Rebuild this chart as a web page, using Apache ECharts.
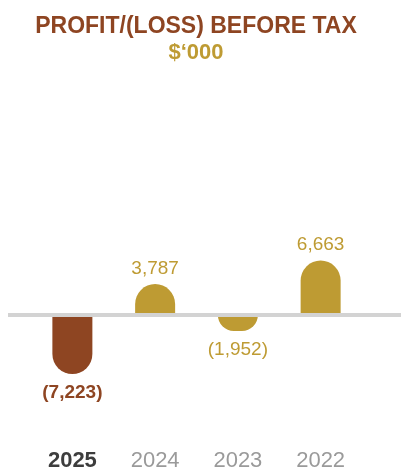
<!DOCTYPE html>
<html>
<head>
<meta charset="utf-8">
<script src="https://cdn.jsdelivr.net/npm/echarts@6/dist/echarts.min.js"></script>
<style>
  html, body { margin: 0; padding: 0; background: #fff; }
  #chart { width: 401px; height: 472px; }
</style>
</head>
<body>
<div id="chart"></div>
<script>
// values in $'000
const years = ['2025', '2024', '2023', '2022']
const values = [-7223, 3787, -1952, 6663]

const BROWN = '#8E4522'
const GOLD = '#BE9B33'

const fmt = (v) => {
  const s = Math.abs(v).toLocaleString('en-US')
  return v < 0 ? '(' + s + ')' : s
}

const chart = echarts.init(document.getElementById('chart'))

const barData = values.map((v, i) => {
  const current = i === 0
  return {
    value: v,
    itemStyle: {
      color: current ? BROWN : GOLD,
      borderRadius: v < 0 ? [0, 0, 20, 20] : [20, 20, 0, 0],
    },
    label: {
      position: v < 0 ? 'bottom' : 'top',
      distance: v < 0 ? 9 : 6,
      color: current ? BROWN : GOLD,
      fontWeight: current ? 'bold' : 'normal',
    },
  }
})

chart.setOption({
  animation: false,
  title: {
    text: 'PROFIT/(LOSS) BEFORE TAX',
    subtext: '$\u2018000',
    left: 191,
    textAlign: 'center',
    top: 10,
    itemGap: 4,
    textStyle: {
      color: BROWN,
      fontFamily: 'Liberation Sans',
      fontWeight: 'bold',
      fontSize: 23,
    },
    subtextStyle: {
      color: GOLD,
      fontFamily: 'Liberation Sans',
      fontWeight: 'bold',
      fontSize: 22,
    },
  },
  grid: {
    left: 31,
    right: 39,
    top: 217,
    height: 196,
  },
  xAxis: {
    type: 'category',
    data: years,
    axisLine: { show: false, onZero: false },
    axisTick: { show: false },
    axisLabel: {
      margin: 37,
      fontFamily: 'Liberation Sans',
      formatter: (val, idx) => (idx === 0 ? '{cur|' + val + '}' : '{old|' + val + '}'),
      rich: {
        cur: { fontSize: 22, fontWeight: 'bold', color: '#3D3D3D', fontFamily: 'Liberation Sans' },
        old: { fontSize: 22, color: '#9A9A9A', fontFamily: 'Liberation Sans' },
      },
    },
  },
  yAxis: {
    type: 'value',
    min: -12000,
    max: 12000,
    show: false,
    splitLine: { show: false },
  },
  series: [
    {
      type: 'bar',
      data: barData,
      barWidth: 40,
      z: 2,
      label: {
        show: true,
        fontFamily: 'Liberation Sans',
        fontSize: 19,
        formatter: (p) => fmt(p.value),
      },
    },
  ],
})

// grey zero line runs past the grid on both sides
const zeroY = chart.convertToPixel({ yAxisIndex: 0 }, 0)
chart.setOption({
  graphic: [
    {
      type: 'line',
      z: 100,
      shape: { x1: 8, y1: zeroY, x2: 401, y2: zeroY },
      style: { stroke: '#D3D3D3', lineWidth: 4 },
    },
  ],
})
</script>
</body>
</html>
